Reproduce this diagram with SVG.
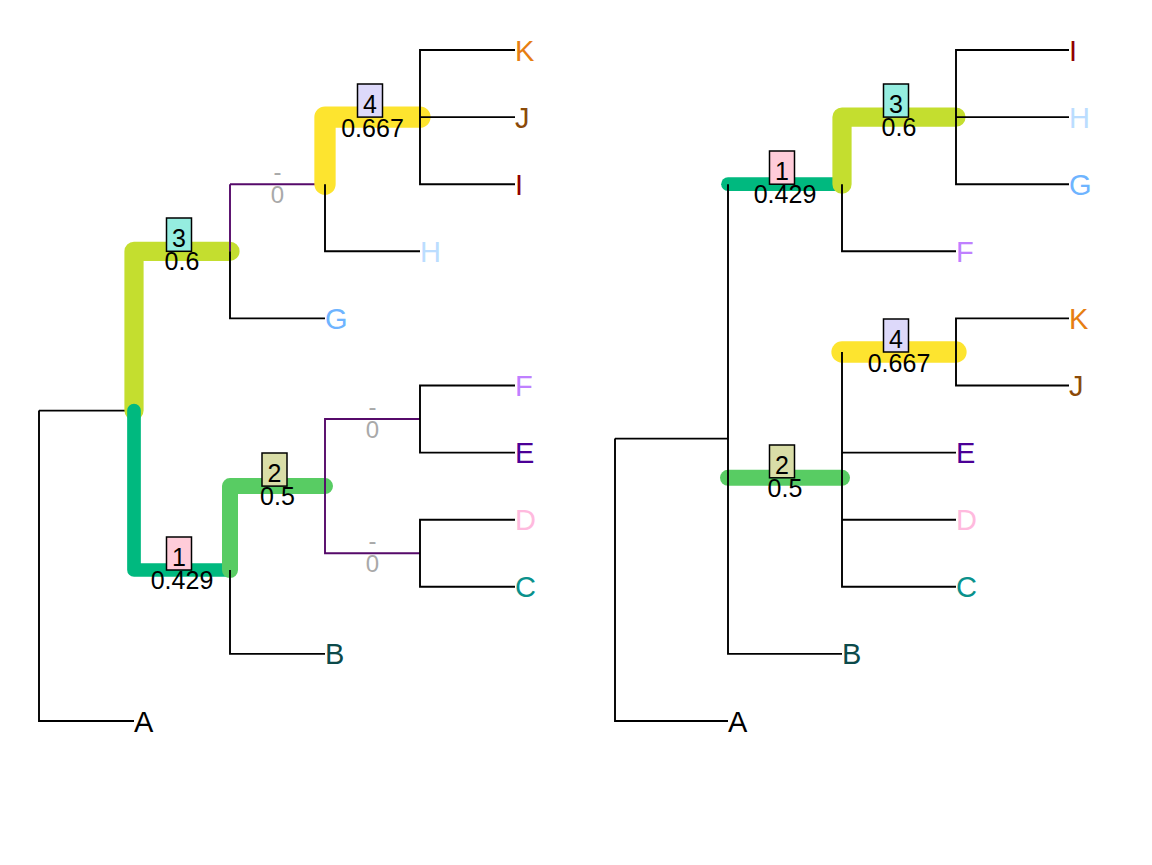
<svg xmlns="http://www.w3.org/2000/svg" width="1152" height="865" viewBox="0 0 1152 865">
  <style>
    .edge { fill: none; stroke: #000; stroke-width: 1.9; stroke-linejoin: miter; }
    .alt { fill: none; stroke: #560A6A; stroke-width: 1.9; }
    .bar { fill: none; stroke-linecap: round; stroke-linejoin: round; }
    .tip { font-family: "Liberation Sans", Arial, sans-serif; font-size: 29px; }
    .tag rect { stroke: #000; stroke-width: 1.5; }
    .tag text, .val { font-family: "Liberation Sans", Arial, sans-serif; text-anchor: middle; }
    .tag text { font-size: 25px; fill: #000; }
    .val { font-size: 24px; fill: #000; }
    .grey { fill: #A9A9A9; }
  </style>
  <rect width="1152" height="865" fill="#fff"/>

  <!-- ============ left tree ============ -->
  <g id="left-tree">
    <g id="left-connectors-under">
      <path class="edge" d="M39 410.6 H134"/>
      <path class="alt" d="M230 184.2 H325"/>
    </g>
    <g id="left-bars">
      <path class="bar" stroke="#C4DE2F" stroke-width="19.2" d="M134 410.6 V251.3 H230"/>
      <path class="bar" stroke="#00B97F" stroke-width="13.7" d="M134 410.6 V570 H230"/>
      <path class="bar" stroke="#FDE42F" stroke-width="21.3" d="M325 184.2 V117.1 H420"/>
      <path class="bar" stroke="#58CC63" stroke-width="16" d="M230 570 V486.1 H325"/>
    </g>
    <g id="left-connectors">
      <path class="edge" d="M39 410.6 V721 H134"/>
      <path class="alt" d="M230 184.2 V251.3"/>
      <path class="edge" d="M230 251.3 V318.4 H325"/>
      <path class="edge" d="M325 184.2 V251.3 H420"/>
      <path class="edge" d="M515 50 H420 V184.2 H515 M420 117.1 H515"/>
      <path class="edge" d="M230 570 V653.9 H325"/>
      <path class="alt" d="M420 419.05 H325 V553.25 H420"/>
      <path class="edge" d="M515 385.5 H420 V452.6 H515"/>
      <path class="edge" d="M515 519.7 H420 V586.8 H515"/>
    </g>
    <g id="left-tips" class="tip">
      <text id="L-K" x="515" y="60.5" fill="#E67E12">K</text>
      <text id="L-J" x="515" y="127.6" fill="#8B4A08">J</text>
      <text id="L-I" x="515" y="194.7" fill="#900000">I</text>
      <text id="L-H" x="420" y="261.8" fill="#BBDDFF">H</text>
      <text id="L-G" x="325" y="328.9" fill="#6EB4FF">G</text>
      <text id="L-F" x="515" y="396" fill="#BF80FF">F</text>
      <text id="L-E" x="515" y="463.1" fill="#4B0096">E</text>
      <text id="L-D" x="515" y="530.2" fill="#FFBADE">D</text>
      <text id="L-C" x="515" y="597.3" fill="#0A918C">C</text>
      <text id="L-B" x="325" y="664.4" fill="#0B4A4A">B</text>
      <text id="L-A" x="134" y="731.5" fill="#000">A</text>
    </g>
    <g id="left-clade-3" class="tag">
      <rect x="166.5" y="218" width="25" height="33.3" fill="#95EDE0"/>
      <text x="179" y="247">3</text>
      <text class="val" x="182" y="270">0.6</text>
    </g>
    <g id="left-clade-4" class="tag">
      <rect x="357.5" y="84" width="25" height="33.1" fill="#DDD9FA"/>
      <text x="370" y="113">4</text>
      <text class="val" x="372.5" y="137">0.667</text>
    </g>
    <g id="left-clade-2" class="tag">
      <rect x="262" y="453" width="25" height="33.1" fill="#D9DDA7"/>
      <text x="274.5" y="482">2</text>
      <text class="val" x="277.5" y="505">0.5</text>
    </g>
    <g id="left-clade-1" class="tag">
      <rect x="166.5" y="537" width="25" height="33" fill="#FFCCD9"/>
      <text x="179" y="566">1</text>
      <text class="val" x="182" y="589">0.429</text>
    </g>
    <g id="left-unsupported" class="val grey">
      <text x="277.5" y="180.2">-</text>
      <text x="277.5" y="203">0</text>
      <text x="372.5" y="415">-</text>
      <text x="372.5" y="438">0</text>
      <text x="372.5" y="549.2">-</text>
      <text x="372.5" y="572">0</text>
    </g>
  </g>

  <!-- ============ right tree ============ -->
  <g id="right-tree">
    <g id="right-connectors-under">
      <path class="edge" d="M615 438.6 H728"/>
    </g>
    <g id="right-bars">
      <path class="bar" stroke="#00B97F" stroke-width="13.7" d="M728 184.2 H842"/>
      <path class="bar" stroke="#C4DE2F" stroke-width="19.2" d="M842 184.2 V117.1 H956"/>
      <path class="bar" stroke="#FDE42F" stroke-width="21.3" d="M842 352 H956"/>
      <path class="bar" stroke="#58CC63" stroke-width="16" d="M728 477.8 H842"/>
    </g>
    <g id="right-connectors">
      <path class="edge" d="M615 438.6 V721 H728"/>
      <path class="edge" d="M728 184.2 V653.9 H842"/>
      <path class="edge" d="M842 184.2 V251.3 H956"/>
      <path class="edge" d="M842 352 V586.8 H956 M842 452.6 H956 M842 519.7 H956"/>
      <path class="edge" d="M1069 50 H956 V184.2 H1069 M956 117.1 H1069"/>
      <path class="edge" d="M1069 318.4 H956 V385.5 H1069"/>
    </g>
    <g id="right-tips" class="tip">
      <text id="R-I" x="1069" y="60.5" fill="#900000">I</text>
      <text id="R-H" x="1069" y="127.6" fill="#BBDDFF">H</text>
      <text id="R-G" x="1069" y="194.7" fill="#6EB4FF">G</text>
      <text id="R-F" x="956" y="261.8" fill="#BF80FF">F</text>
      <text id="R-K" x="1069" y="328.9" fill="#E67E12">K</text>
      <text id="R-J" x="1069" y="396" fill="#8B4A08">J</text>
      <text id="R-E" x="956" y="463.1" fill="#4B0096">E</text>
      <text id="R-D" x="956" y="530.2" fill="#FFBADE">D</text>
      <text id="R-C" x="956" y="597.3" fill="#0A918C">C</text>
      <text id="R-B" x="842" y="664.4" fill="#0B4A4A">B</text>
      <text id="R-A" x="728" y="731.5" fill="#000">A</text>
    </g>
    <g id="right-clade-1" class="tag">
      <rect x="769.5" y="151" width="25" height="33.2" fill="#FFCCD9"/>
      <text x="782" y="180">1</text>
      <text class="val" x="785" y="203">0.429</text>
    </g>
    <g id="right-clade-3" class="tag">
      <rect x="883.5" y="84" width="25" height="33.1" fill="#95EDE0"/>
      <text x="896" y="113">3</text>
      <text class="val" x="899" y="136">0.6</text>
    </g>
    <g id="right-clade-4" class="tag">
      <rect x="883.5" y="319" width="25" height="33" fill="#DDD9FA"/>
      <text x="896" y="348">4</text>
      <text class="val" x="899" y="372">0.667</text>
    </g>
    <g id="right-clade-2" class="tag">
      <rect x="769.5" y="445" width="25" height="32.8" fill="#D9DDA7"/>
      <text x="782" y="474">2</text>
      <text class="val" x="785" y="497">0.5</text>
    </g>
  </g>
</svg>
